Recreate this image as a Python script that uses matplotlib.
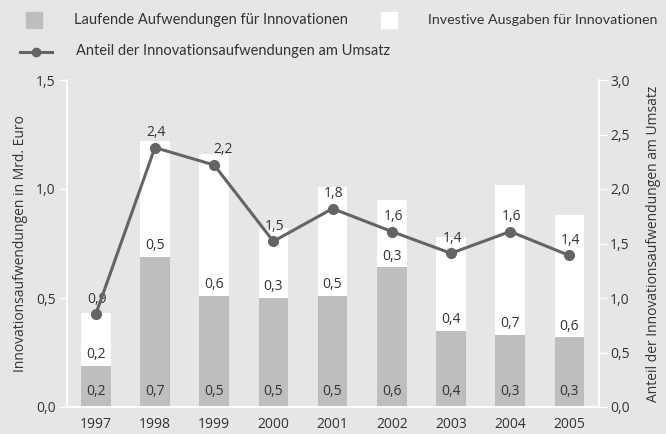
import matplotlib.pyplot as plt
from matplotlib.ticker import FuncFormatter
from matplotlib.lines import Line2D
from matplotlib.patches import Rectangle
import numpy as np

years = ["1997", "1998", "1999", "2000", "2001", "2002", "2003", "2004", "2005"]
laufend = [0.19, 0.69, 0.51, 0.50, 0.51, 0.64, 0.35, 0.33, 0.32]
investiv = [0.24, 0.53, 0.65, 0.32, 0.50, 0.31, 0.43, 0.69, 0.56]
anteil = [0.85, 2.38, 2.22, 1.52, 1.82, 1.61, 1.41, 1.61, 1.39]
laufend_labels = ["0,2", "0,7", "0,5", "0,5", "0,5", "0,6", "0,4", "0,3", "0,3"]
investiv_labels = ["0,2", "0,5", "0,6", "0,3", "0,5", "0,3", "0,4", "0,7", "0,6"]
anteil_labels = ["0,9", "2,4", "2,2", "1,5", "1,8", "1,6", "1,4", "1,6", "1,4"]

BG = "#e5e6e8"
GRAY = "#bdbec0"
LINE = "#646466"
TXT = "#333333"

plt.rcParams["font.family"] = ["Open Sans", "DejaVu Sans"]

W, H = 666, 434
fig = plt.figure(figsize=(W / 100, H / 100), dpi=100, facecolor=BG)
ax = fig.add_axes([67 / W, 1 - 407 / H, 532 / W, 327 / H], facecolor=BG)
ax2 = ax.twinx()

x = np.arange(len(years))
ax.bar(x, laufend, width=0.5, color=GRAY, zorder=2)
ax.bar(x, investiv, width=0.5, bottom=laufend, color="white", zorder=2)

for i in range(len(years)):
    ax.annotate(laufend_labels[i], (x[i], 0), xytext=(0, 11), textcoords="offset points",
                ha="center", va="center", fontsize=10, color=TXT, zorder=3)
    ax.annotate(investiv_labels[i], (x[i], laufend[i]), xytext=(0, 8), textcoords="offset points",
                ha="center", va="center", fontsize=10, color=TXT, zorder=3)

ax2.plot(x, anteil, color=LINE, lw=2.2, marker="o", ms=7, zorder=4)
for i in range(len(years)):
    dx = 6.5 if i == 2 else 1
    ax2.annotate(anteil_labels[i], (x[i], anteil[i]), xytext=(dx, 11), textcoords="offset points",
                 ha="center", va="center", fontsize=10, color=TXT)

ax.set_xlim(-0.485, 8.5)
ax.set_ylim(0, 1.5)
ax2.set_ylim(0, 3.0)
ax.set_xticks(x)
ax.set_xticklabels(years)
ax.set_yticks([0, 0.5, 1.0, 1.5])
ax2.set_yticks([0, 0.5, 1.0, 1.5, 2.0, 2.5, 3.0])
fmt = FuncFormatter(lambda v, p: f"{v:.1f}".replace(".", ","))
ax.yaxis.set_major_formatter(fmt)
ax2.yaxis.set_major_formatter(fmt)

for a in (ax, ax2):
    for s in a.spines.values():
        s.set_color("white")
        s.set_linewidth(1.2)
    a.spines["top"].set_visible(False)
    a.tick_params(colors="white", labelcolor=TXT, labelsize=10, length=6, width=1, pad=2)
ax.tick_params(axis="x", length=0, pad=7)

ax.set_ylabel("Innovationsaufwendungen in Mrd. Euro", fontsize=10, color=TXT, labelpad=6)
ax2.set_ylabel("Anteil der Innovationsaufwendungen am Umsatz", fontsize=10, color=TXT,
               rotation=90, labelpad=12)

# legend drawn by hand to match the layout
leg_font = ["Lato", "DejaVu Sans"]
fig.add_artist(Rectangle((26 / W, 1 - 28 / H), 16 / W, 16 / H, color=GRAY, transform=fig.transFigure))
fig.text(74 / W, 1 - 20 / H, "Laufende Aufwendungen für Innovationen", ha="left", va="center",
         fontsize=10.5, color=TXT, family=leg_font)
fig.add_artist(Rectangle((381 / W, 1 - 28 / H), 16 / W, 16 / H, color="white", transform=fig.transFigure))
fig.text(428 / W, 1 - 20 / H, "Investive Ausgaben für Innovationen", ha="left", va="center",
         fontsize=10.3, color=TXT, family=leg_font)
fig.add_artist(Line2D([20 / W, 52 / W], [1 - 52 / H, 1 - 52 / H], color=LINE, lw=2.2,
                      transform=fig.transFigure))
fig.add_artist(Line2D([36 / W], [1 - 52 / H], color=LINE, marker="o", ms=6,
                      transform=fig.transFigure))
fig.text(76 / W, 1 - 51 / H, "Anteil der Innovationsaufwendungen am Umsatz", ha="left", va="center",
         fontsize=10.5, color=TXT, family=leg_font)

fig.savefig("out.png", dpi=100, facecolor=BG)
